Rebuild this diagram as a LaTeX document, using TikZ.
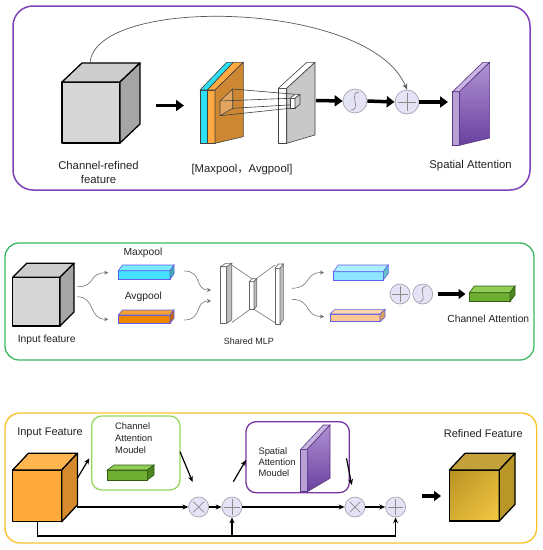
\documentclass[tikz,border=0pt]{standalone}
\usepackage{fontspec}
\setmainfont{Liberation Sans}
\newfontfamily\cjkfont{Noto Sans CJK SC}
\usetikzlibrary{arrows.meta,shadings}
\definecolor{txt}{RGB}{35,35,35}
\definecolor{framepurple}{RGB}{125,65,185}
\definecolor{framegreen}{RGB}{60,185,95}
\definecolor{frameyellow}{RGB}{250,195,50}
\definecolor{camgreen}{RGB}{150,215,95}
\definecolor{sampurple}{RGB}{120,55,160}
\definecolor{cubefront}{RGB}{214,214,214}
\definecolor{cubetop}{RGB}{205,205,205}
\definecolor{cubeside}{RGB}{165,165,165}
\definecolor{opfill}{RGB}{228,228,246}
\definecolor{opdraw}{RGB}{165,165,178}
\definecolor{cyanA}{RGB}{45,225,245}
\definecolor{orA}{RGB}{255,170,65}
\definecolor{orB}{RGB}{205,135,50}
\definecolor{orC}{RGB}{225,165,95}
\definecolor{slabside}{RGB}{200,200,200}
\definecolor{puFront}{RGB}{185,160,215}
\definecolor{puTop}{RGB}{200,180,225}
\definecolor{puSideA}{RGB}{175,145,210}
\definecolor{puSideB}{RGB}{105,65,160}
\definecolor{puEdge}{RGB}{90,55,130}
\definecolor{barEdge}{RGB}{95,95,235}
\definecolor{mxF}{RGB}{70,225,255}
\definecolor{mxT}{RGB}{120,235,255}
\definecolor{mxS}{RGB}{60,175,170}
\definecolor{avF}{RGB}{240,135,0}
\definecolor{avT}{RGB}{245,160,50}
\definecolor{avS}{RGB}{190,100,0}
\definecolor{lcF}{RGB}{140,230,255}
\definecolor{lcT}{RGB}{170,240,255}
\definecolor{lcS}{RGB}{100,195,200}
\definecolor{loF}{RGB}{255,200,145}
\definecolor{loT}{RGB}{255,215,170}
\definecolor{loS}{RGB}{215,160,95}
\definecolor{grF}{RGB}{110,175,50}
\definecolor{grT}{RGB}{145,205,85}
\definecolor{grS}{RGB}{75,135,30}
\definecolor{grE}{RGB}{50,90,20}
\definecolor{ocF}{RGB}{255,170,60}
\definecolor{ocT}{RGB}{255,182,80}
\definecolor{ocS}{RGB}{212,138,45}
\definecolor{rfA}{RGB}{185,145,35}
\definecolor{rfB}{RGB}{215,175,50}
\definecolor{rfC}{RGB}{245,200,70}
\definecolor{rfT}{RGB}{195,162,60}
\definecolor{rfS}{RGB}{185,150,40}
\newcommand{\cuboid}[7]{%
  \path[#7 front] (#1,#2) rectangle ++(#3,#4);
  \path[#7 top] (#1,#2) -- ++(#5,-#6) -- ++(#3,0) -- ++(-#5,#6) -- cycle;
  \path[#7 side] (#1+#3,#2) -- ++(#5,-#6) -- ++(0,#4) -- ++(-#5,#6) -- cycle;}
\tikzset{
  gc front/.style={fill=cubefront, draw=black, line width=1.3pt, line join=round},
  gc top/.style={fill=cubetop, draw=black, line width=1.3pt, line join=round},
  gc side/.style={fill=cubeside, draw=black, line width=1.3pt, line join=round},
  oc front/.style={fill=ocF, draw=black, line width=1.3pt, line join=round},
  oc top/.style={fill=ocT, draw=black, line width=1.3pt, line join=round},
  oc side/.style={fill=ocS, draw=black, line width=1.3pt, line join=round},
  rf front/.style={upper left=rfA, upper right=rfB, lower left=rfB, lower right=rfC, draw=black, line width=1.3pt, line join=round},
  rf top/.style={fill=rfT, draw=black, line width=1.3pt, line join=round},
  rf side/.style={fill=rfS, draw=black, line width=1.3pt, line join=round},
  mx front/.style={fill=mxF, draw=barEdge, line width=.6pt},
  mx top/.style={fill=mxT, draw=barEdge, line width=.6pt},
  mx side/.style={fill=mxS, draw=barEdge, line width=.6pt},
  av front/.style={fill=avF, draw=barEdge, line width=.6pt},
  av top/.style={fill=avT, draw=barEdge, line width=.6pt},
  av side/.style={fill=avS, draw=barEdge, line width=.6pt},
  lc front/.style={fill=lcF, draw=barEdge, line width=.6pt},
  lc top/.style={fill=lcT, draw=barEdge, line width=.6pt},
  lc side/.style={fill=lcS, draw=barEdge, line width=.6pt},
  lo front/.style={fill=loF, draw=barEdge, line width=.6pt},
  lo top/.style={fill=loT, draw=barEdge, line width=.6pt},
  lo side/.style={fill=loS, draw=barEdge, line width=.6pt},
  gr front/.style={fill=grF, draw=grE, line width=.6pt},
  gr top/.style={fill=grT, draw=grE, line width=.6pt},
  gr side/.style={fill=grS, draw=grE, line width=.6pt},
  ml front/.style={fill=white, draw=black!60, line width=.6pt},
  ml top/.style={fill=white, draw=black!60, line width=.6pt},
  ml side/.style={fill=black!25, draw=black!60, line width=.6pt},
  slabline/.style={draw=black!75, line width=.6pt, line join=round},
  opc/.style={circle, draw=opdraw, fill=opfill, line width=.7pt, minimum size=24pt, inner sep=0pt},
  opcs/.style={opc, minimum size=20pt},
  sym/.style={draw=black!45, line width=.7pt},
  fat/.style={line width=3.5pt, -{Triangle[length=8pt,width=11pt]}},
  fatb/.style={line width=3.2pt, -{Triangle[length=7pt,width=10pt]}},
  arr/.style={line width=1.2pt, -{Stealth[length=6pt,width=5pt]}},
  thinarr/.style={draw=black!65, line width=.7pt, -{Stealth[length=6pt,width=5pt]}},
  cur/.style={draw=black!55, line width=.6pt, -{Stealth[length=4pt,width=4pt]}},
  lbl/.style={text=txt, font=\fontsize{11.3}{14.5}\selectfont, align=center, inner sep=0pt},
  lbls/.style={lbl, font=\fontsize{10.3}{12}\selectfont},
  lblm/.style={text=txt, font=\fontsize{9.4}{12}\selectfont, align=left, inner sep=0pt},
}
\begin{document}
\begin{tikzpicture}[x=1pt,y=-1pt]
\useasboundingbox (0,0) rectangle (543,550);
\fill[white] (0,0) rectangle (543,550);

%% ---------------- Panel 1: spatial attention ----------------
\draw[framepurple, line width=1.5pt, rounded corners=20pt] (13,6) rectangle (530,190);
\cuboid{62}{82}{58}{61}{20}{19}{gc}
\coordinate (cube1top) at (90,63);
% orange / cyan slab
\path[slabline, fill=cyanA] (200,90) rectangle (207.3,143.3);
\path[slabline, fill=cyanA] (200,90) -- (226.7,62.3) -- (233.3,62.3) -- (207.3,90) -- cycle;
\path[slabline, fill=orA] (207.3,90) rectangle (215,143.3);
\path[slabline, fill=orA] (207.3,90) -- (233.3,62.3) -- (243.3,62.3) -- (215,90) -- cycle;
\path[slabline, fill=orB] (215,90) -- (243.3,62.3) -- (243.3,136.7) -- (215,143.3) -- cycle;
% grey slab
\path[slabline, fill=white] (278.3,88.3) rectangle (286.7,143.3);
\path[slabline, fill=white] (278.3,88.3) -- (306.7,62.3) -- (315,62.3) -- (286.7,88.3) -- cycle;
\path[slabline, fill=slabside] (286.7,88.3) -- (315,62.3) -- (315,135) -- (286.7,143.3) -- cycle;
% frustum between slabs
\path[slabline, fill=orC] (220,101) -- (232.7,89) -- (232.7,108.3) -- (220,115.7) -- cycle;
\draw[slabline] (232.7,89) -- (295,94.3);
\draw[slabline] (220,101) -- (290,98.3);
\draw[slabline] (220,115.7) -- (290,108.3);
\draw[slabline] (232.7,108.3) -- (300,104.3);
\path[slabline, fill=white] (290,98.3) rectangle (295,108.3);
\path[slabline, fill=white] (290,98.3) -- (295,94.3) -- (300,94.3) -- (295,98.3) -- cycle;
\path[slabline, fill=black!20] (295,98.3) -- (300,94.3) -- (300,104.3) -- (295,108.3) -- cycle;
% purple slab
\path[draw=puEdge, line width=.6pt, fill=puFront] (452.6,91.7) rectangle (459.5,145.3);
\path[draw=puEdge, line width=.6pt, fill=puTop] (452.6,91.7) -- (482.7,62.3) -- (489.6,62.3) -- (459.5,91.7) -- cycle;
\path[draw=puEdge, line width=.6pt, top color=puSideA, bottom color=puSideB] (459.5,91.7) -- (489.6,62.3) -- (489.6,138) -- (459.5,145.3) -- cycle;
% operators
\node[opc] (sig1) at (355,101) {};
\node[opc] (plus1) at (407,102) {};
\draw[sym] (351,110) .. controls (362,110) and (348,92) .. (359,92);
\draw[sym] ([xshift=3pt]plus1.west) -- ([xshift=-3pt]plus1.east);
\draw[sym] ([yshift=-3pt]plus1.north) -- ([yshift=3pt]plus1.south);
% connectors
\coordinate (a1s) at (156,105.5);
\coordinate (a1e) at (184,105.5);
\coordinate (slabE) at (316,100.5);
\coordinate (puW) at (448,102);
\draw[fat] (a1s) -- (a1e);
\draw[fat] (slabE) -- (sig1.west);
\draw[fat] (sig1.east) -- (plus1.west);
\draw[fat] (plus1.east) -- (puW);
\draw[thinarr] (cube1top) .. controls (95,-5) and (370,0) .. (plus1.north);
% labels
\node[lbl] (l1) at (98.5,172.5) {Channel-refined\\feature};
\node[lbl] (l2) at (242,169.5) {[Maxpool{\cjkfont ，}Avgpool]};
\node[lbl] (l3) at (470.6,165.4) {Spatial Attention};

%% ---------------- Panel 2: channel attention ----------------
\draw[framegreen, line width=1.3pt, rounded corners=14pt] (5,243) rectangle (534,360);
\cuboid{12.7}{277.3}{47.3}{48.7}{14}{14}{gc}
\cuboid{118.3}{270.7}{51.7}{8.8}{4}{5.7}{mx}
\cuboid{118.3}{315}{51.7}{8.3}{4}{5}{av}
% shared MLP
\draw[black!55, line width=.6pt] (231.7,265) -- (252.7,279.3);
\draw[black!55, line width=.6pt] (231.7,322.7) -- (250,309.3);
\draw[black!55, line width=.6pt] (256.7,278.3) -- (275,265);
\draw[black!55, line width=.6pt] (254,309.3) -- (275,322.7);
\cuboid{220.7}{266.7}{6}{56.6}{5}{3.4}{ml}
\cuboid{249.3}{281.7}{4.7}{27.6}{2.7}{3}{ml}
\cuboid{275}{268.3}{5}{55.7}{3.3}{4.3}{ml}
\cuboid{333.3}{271.7}{50}{8.3}{5}{6.7}{lc}
\cuboid{330}{314}{50}{7.7}{5}{4.7}{lo}
\cuboid{469.3}{292.7}{40.7}{9}{5}{6.7}{gr}
\node[opcs] (plus2) at (400,294) {};
\node[opcs] (sig2) at (422.7,294) {};
\draw[sym] ([xshift=2.5pt]plus2.west) -- ([xshift=-2.5pt]plus2.east);
\draw[sym] ([yshift=-2.5pt]plus2.north) -- ([yshift=2.5pt]plus2.south);
\draw[sym] (419.5,301.5) .. controls (428.5,301.5) and (417,286.5) .. (426,286.5);
% connectors
\coordinate (cube2a) at (77.3,286.7);
\coordinate (cube2b) at (77.3,296.7);
\coordinate (mxW) at (108.3,272.7);
\coordinate (avW) at (108.3,319.3);
\coordinate (mxE) at (184,271);
\coordinate (avE) at (184,320);
\coordinate (mlpWa) at (211,290);
\coordinate (mlpWb) at (211,301);
\coordinate (mlpEa) at (291.7,288.3);
\coordinate (mlpEb) at (291.7,299.3);
\coordinate (lcW) at (324,272.5);
\coordinate (loW) at (324,316.5);
\coordinate (sig2E) at (438.3,294);
\coordinate (grW) at (465.5,294);
\draw[cur] (cube2a) .. controls (96,287) and (88,272.7) .. (mxW);
\draw[cur] (cube2b) .. controls (96,297) and (88,319.3) .. (avW);
\draw[cur] (mxE) .. controls (203,271) and (194,290) .. (mlpWa);
\draw[cur] (avE) .. controls (203,320) and (194,301) .. (mlpWb);
\draw[cur] (mlpEa) .. controls (312,288) and (304,272.5) .. (lcW);
\draw[cur] (mlpEb) .. controls (312,299.5) and (304,316.5) .. (loW);
\draw[fatb] (sig2E) -- (grW);
\node[lbls] (l4) at (143,253) {Maxpool};
\node[lbls] (l5) at (143.3,297) {Avgpool};
\node[lbls] (l6) at (46.7,340) {Input feature};
\node[lbl, font=\fontsize{9}{11}\selectfont] (l7) at (249,341) {Shared MLP};
\node[lbls] (l8) at (488.3,319.3) {Channel Attention};

%% ---------------- Panel 3: CBAM ----------------
\draw[frameyellow, line width=1.4pt, rounded corners=15pt] (5,413) rectangle (536.7,543);
\node[draw=camgreen, line width=1.3pt, rounded corners=10pt, minimum width=88.3pt, minimum height=74pt, inner sep=0pt] (cam) at (135.85,453) {};
\node[draw=sampurple, line width=1.3pt, rounded corners=10pt, minimum width=103.3pt, minimum height=71pt, inner sep=0pt] (sam) at (297.65,457.2) {};
\cuboid{12.7}{470}{49}{51.7}{15.7}{16.7}{oc}
\cuboid{107.3}{470}{40}{10}{6.7}{5}{gr}
\path[draw=puEdge, line width=.6pt, fill=puFront] (300.7,449.3) rectangle (307.3,491.7);
\path[draw=puEdge, line width=.6pt, fill=puTop] (300.7,449.3) -- (323.3,425) -- (330,425) -- (307.3,449.3) -- cycle;
\path[draw=puEdge, line width=.6pt, top color=puSideA, bottom color=puSideB] (307.3,449.3) -- (330,425) -- (330,478.3) -- (307.3,491.7) -- cycle;
\cuboid{449.3}{470}{50}{51}{15.7}{16.7}{rf}
\node[opcs] (mul1) at (198.7,507) {};
\node[opcs] (plus3) at (232,507) {};
\node[opcs] (mul2) at (355,507) {};
\node[opcs] (plus4) at (395.6,507) {};
\foreach \n in {plus3,plus4}{
  \draw[sym] ([xshift=2.5pt]\n.west) -- ([xshift=-2.5pt]\n.east);
  \draw[sym] ([yshift=-2.5pt]\n.north) -- ([yshift=2.5pt]\n.south);}
\foreach \n in {mul1,mul2}{
  \draw[sym] ([shift={(2pt,-2pt)}]\n.north west) -- ([shift={(-2pt,2pt)}]\n.south east);
  \draw[sym] ([shift={(-2pt,-2pt)}]\n.north east) -- ([shift={(2pt,2pt)}]\n.south west);}
% connectors
\coordinate (cube3R) at (77.3,507);
\coordinate (cube3up) at (77.3,478.3);
\coordinate (camIn) at (89.3,458.3);
\coordinate (camOut) at (180,451.7);
\coordinate (mul1In) at (192.7,482);
\coordinate (plus3up) at (233.3,481.7);
\coordinate (samIn) at (246,460);
\coordinate (samOut) at (346.5,458.3);
\coordinate (mul2In) at (351.7,485);
\coordinate (cube3B) at (37.3,521.7);
\coordinate (bot) at (37.3,536);
\coordinate (rfa) at (421.7,496);
\coordinate (rfb) at (441,496);
\draw[arr] (cube3R) -- (mul1.west);
\draw[arr] (mul1.east) -- (plus3.west);
\draw[arr] (plus3.east) -- (mul2.west);
\draw[arr] (mul2.east) -- (plus4.west);
\draw[arr] (cube3up) -- (camIn);
\draw[arr] (camOut) -- (mul1In);
\draw[arr] (plus3up) -- (samIn);
\draw[arr] (samOut) -- (mul2In);
\draw[arr] (cube3B) -- (bot) -| (plus4.south);
\draw[arr] (plus3.south |- bot) -- (plus3.south);
\draw[fatb] (rfa) -- (rfb);
\node[lbl, font=\fontsize{11}{13}\selectfont] (l9) at (50,433.3) {Input Feature};
\node[lbl, font=\fontsize{11}{13}\selectfont] (l10) at (483.3,433.3) {Refined Feature};
\node[lblm, anchor=west] (l11) at (115,438.5) {Channel\\Attention\\Moudel};
\node[lblm, anchor=west, font=\fontsize{9.4}{11}\selectfont] (l12) at (258.3,462.5) {Spatial\\Attention\\Moudel};
\end{tikzpicture}
\end{document}
